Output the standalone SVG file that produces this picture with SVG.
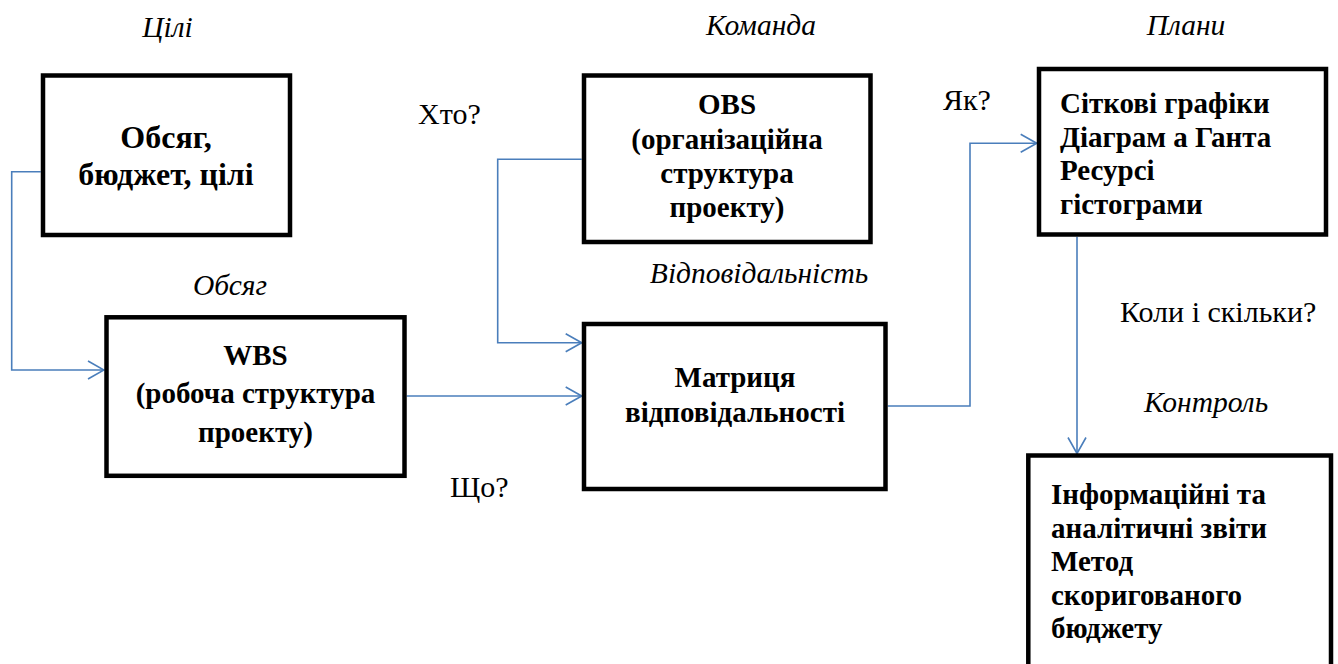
<svg xmlns="http://www.w3.org/2000/svg" width="1338" height="664" viewBox="0 0 1338 664" font-family="Liberation Serif, DejaVu Serif, serif">
<style>
.box{fill:#fff;stroke:#000;stroke-width:4.5;}
text{font-family:'Liberation Serif','Times New Roman',serif;fill:#000;}
.bt{font-weight:bold;font-size:29px;}
.bt1{font-weight:bold;font-size:32px;}
.lbl{font-size:30px;}
.it{font-style:italic;font-size:29.5px;}
.con{fill:none;stroke:#4A7EBB;stroke-width:1.6;}
</style>
<defs>
<marker id="arr" viewBox="0 0 18 20" refX="17" refY="10" markerWidth="18" markerHeight="20" markerUnits="userSpaceOnUse" orient="auto">
<path d="M1,1 L17,10 L1,19" fill="none" stroke="#4A7EBB" stroke-width="1.6"/>
</marker>
</defs>
<rect width="1338" height="664" fill="#fff"/>
<g id="labels">
<text class="it" x="167.5" y="37" text-anchor="middle">Цілі</text>
<text class="it" x="761" y="35" text-anchor="middle">Команда</text>
<text class="it" x="1186" y="35" text-anchor="middle">Плани</text>
<text class="it" x="230" y="295" text-anchor="middle">Обсяг</text>
<text class="it" x="759" y="283" text-anchor="middle">Відповідальність</text>
<text class="it" x="1206" y="412" text-anchor="middle">Контроль</text>
<text class="lbl" x="418" y="124">Хто?</text>
<text class="lbl" x="450" y="497">Що?</text>
<text class="lbl" x="943" y="110">Як?</text>
<text class="lbl" x="1120" y="322">Коли і скільки?</text>
</g>
<g id="connectors">
<path class="con" d="M40.7,171.7 H11.7 V370 H104" marker-end="url(#arr)"/>
<path class="con" d="M406.7,396 H581.7" marker-end="url(#arr)"/>
<path class="con" d="M581.7,159.3 H497.7 V342.7 H581.7" marker-end="url(#arr)"/>
<path class="con" d="M887.7,406 H970 V143.3 H1036.7" marker-end="url(#arr)"/>
<path class="con" d="M1077,236.7 V453.5" marker-end="url(#arr)"/>
</g>
<g id="node-goals">
<rect class="box" x="43" y="75.5" width="247" height="159.5"/>
<text class="bt1" x="166" y="148" text-anchor="middle">Обсяг,</text>
<text class="bt1" x="166" y="185" text-anchor="middle">бюджет, цілі</text>
</g>
<g id="node-wbs">
<rect class="box" x="106.5" y="317.3" width="298" height="158.5"/>
<text class="bt" x="255.5" y="365" text-anchor="middle">WBS</text>
<text class="bt" x="255.5" y="403" text-anchor="middle">(робоча структура</text>
<text class="bt" x="255.5" y="442" text-anchor="middle">проекту)</text>
</g>
<g id="node-obs">
<rect class="box" x="584" y="75.5" width="286.5" height="166.5"/>
<text class="bt" x="727" y="114" text-anchor="middle">OBS</text>
<text class="bt" x="727" y="148.5" text-anchor="middle">(організаційна</text>
<text class="bt" x="727" y="182.5" text-anchor="middle">структура</text>
<text class="bt" x="727" y="216.5" text-anchor="middle">проекту)</text>
</g>
<g id="node-matrix">
<rect class="box" x="584" y="324" width="301.5" height="165"/>
<text class="bt" x="735" y="387" text-anchor="middle">Матриця</text>
<text class="bt" x="735" y="422" text-anchor="middle">відповідальності</text>
</g>
<g id="node-plans">
<rect class="box" x="1039" y="69" width="287" height="165.5"/>
<text class="bt" x="1060" y="113">Сіткові графіки</text>
<text class="bt" x="1060" y="146.5">Діаграм а Ганта</text>
<text class="bt" x="1060" y="180">Ресурсі</text>
<text class="bt" x="1060" y="213.5">гістограми</text>
</g>
<g id="node-control">
<rect class="box" x="1028.3" y="455.5" width="302.7" height="215"/>
<text class="bt" x="1051" y="504">Інформаційні та</text>
<text class="bt" x="1051" y="537.5">аналітичні звіти</text>
<text class="bt" x="1051" y="571">Метод</text>
<text class="bt" x="1051" y="604.5">скоригованого</text>
<text class="bt" x="1051" y="638">бюджету</text>
</g>
</svg>
